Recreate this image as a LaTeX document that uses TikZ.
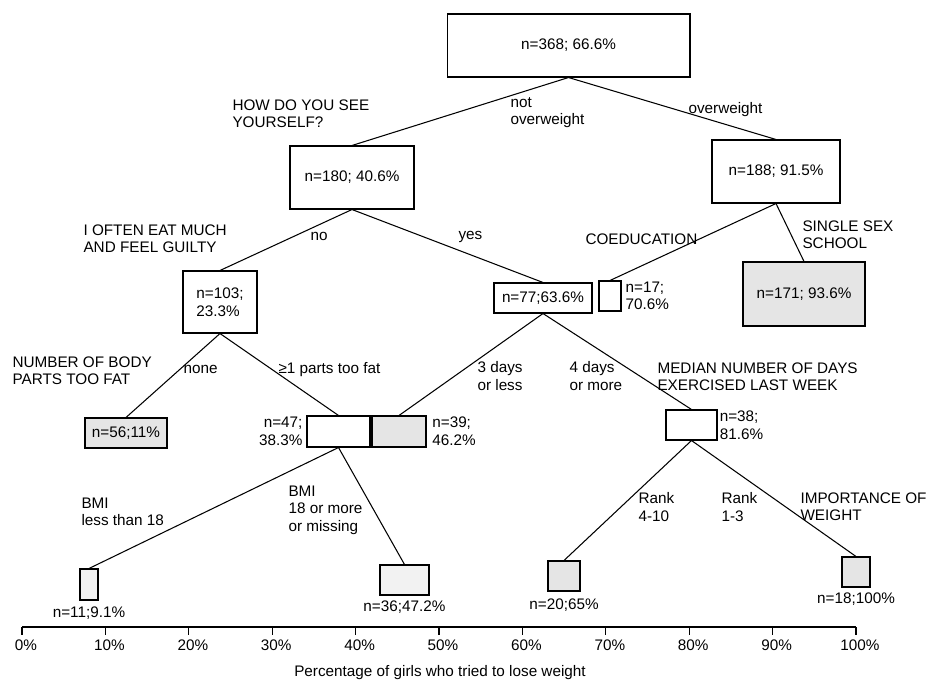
\documentclass[tikz,border=0pt]{standalone}
\usepackage{fontspec}
\setmainfont{Liberation Sans}
\usetikzlibrary{positioning}

\begin{document}
\begin{tikzpicture}[x=0.02cm,y=-0.02cm,line width=0.6pt,
  every node/.style={font=\fontsize{8.7}{10}\selectfont},
  box/.style={draw,inner sep=0pt},
  shade/.style={box,fill=black!10},
  lshade/.style={box,fill=black!5},
  lbl/.style={anchor=north west,align=left,inner sep=0pt},
  side/.style={align=left,inner sep=0pt}]
\useasboundingbox (0,0) rectangle (929,682);
% ---- tree boxes (centres in scan pixels) ----
\node[box,minimum width=4.86cm,minimum height=1.26cm] (root) at (568.5,45.5) {n=368;\ 66.6\%};
\node[box,minimum width=2.48cm,minimum height=1.26cm] (b180) at (352,177.5) {n=180;\ 40.6\%};
\node[box,minimum width=2.56cm,minimum height=1.26cm] (b188) at (776,171.5) {n=188;\ 91.5\%};
\node[box,minimum width=1.48cm,minimum height=1.24cm,align=left] (b103) at (220,302) {n=103;\\23.3\%};
\node[box,minimum width=1.96cm,minimum height=0.6cm] (b77) at (543,298) {n=77;63.6\%};
\node[box,minimum width=0.44cm,minimum height=0.6cm] (b17) at (610,296) {};
\node[shade,minimum width=2.44cm,minimum height=1.28cm] (b171) at (804,294) {n=171;\ 93.6\%};
\node[shade,minimum width=1.64cm,minimum height=0.6cm] (b56) at (126,433) {n=56;11\%};
\node[box,minimum width=1.26cm,minimum height=0.62cm] (b47) at (338.5,431.5) {};
\node[shade,minimum width=1.08cm,minimum height=0.62cm] (b39) at (399,431.5) {};
\node[box,minimum width=1.02cm,minimum height=0.6cm] (b38) at (691.5,425) {};
\node[lshade,minimum width=0.36cm,minimum height=0.62cm] (b11) at (89,584.5) {};
\node[lshade,minimum width=0.98cm,minimum height=0.6cm] (b36) at (404.5,580) {};
\node[shade,minimum width=0.64cm,minimum height=0.6cm] (b20) at (564,576) {};
\node[shade,minimum width=0.56cm,minimum height=0.6cm] (b18) at (856,572) {};
% ---- counts beside / below small boxes ----
\node[side,right=2pt of b17] (n17) {n=17;\\70.6\%};
\node[side,left=2pt of b47,align=right] (n47) {n=47;\\38.3\%};
\node[side,right=3pt of b39] (n39) {n=39;\\46.2\%};
\node[side,right=1pt of b38] (n38) {n=38;\\81.6\%};
\node[below=0.12cm of b11,inner sep=0pt] (n11) {n=11;9.1\%};
\node[below=0.1cm of b36,inner sep=0pt] (n36) {n=36;47.2\%};
\node[below=0.14cm of b20,inner sep=0pt] (n20) {n=20;65\%};
\node[below=0.1cm of b18,inner sep=0pt] (n18) {n=18;100\%};
% ---- branches ----
\draw (root.south) -- (b180.north);
\draw (root.south) -- (b188.north);
\draw (b180.south) -- (b103.north);
\draw (b180.south) -- (b77.north);
\draw (b188.south) -- (b17.north);
\draw (b188.south) -- (b171.north);
\draw (b103.south) -- (b56.north);
\draw (b103.south) -- (b47.north);
\draw (b77.south) -- (b39.north);
\draw (b77.south) -- (b38.north);
\draw (b47.south) -- (b11.north);
\draw (b47.south) -- (b36.north);
\draw (b38.south) -- (b20.north);
\draw (b38.south) -- (b18.north);
% ---- split questions and branch labels ----
\node[lbl] (q1) at (232,99) {HOW DO YOU SEE\\YOURSELF?};
\node[lbl] (l1a) at (510,97) {not\\overweight};
\node[lbl] (l1b) at (688,102) {overweight};
\node[lbl] (q2) at (83,224) {I OFTEN EAT MUCH\\AND FEEL GUILTY};
\node[lbl] (l2a) at (310,232) {no};
\node[lbl] (l2b) at (458,231) {yes};
\node[lbl] (q3) at (585,233) {COEDUCATION};
\node[lbl] (q3b) at (802,220) {SINGLE SEX\\SCHOOL};
\node[lbl] (q4) at (12,356) {NUMBER OF BODY\\PARTS TOO FAT};
\node[lbl] (l4a) at (183,365) {none};
\node[lbl] (l4b) at (278,362) {≥1 parts too fat};
\node[lbl] (l5a) at (477,361) {3 days\\or less};
\node[lbl] (l5b) at (569,361) {4 days\\or more};
\node[lbl] (q5) at (657,362) {MEDIAN NUMBER OF DAYS\\EXERCISED LAST WEEK};
\node[lbl] (q6) at (81,497) {BMI\\less than 18};
\node[lbl] (l6b) at (288,485) {BMI\\18 or more\\or missing};
\node[lbl] (l7a) at (638,492) {Rank\\4-10};
\node[lbl] (l7b) at (721,492) {Rank\\1-3};
\node[lbl] (q7) at (800,492) {IMPORTANCE OF\\WEIGHT};
% ---- percentage axis ----
\draw (22,627) -- (856,627);
\foreach \k [evaluate=\k as \p using int(10*\k)] in {0,...,10}{
  \draw (22+83.4*\k,627) -- ++(0,8);
  \node (t\k) at (26+83.4*\k,645) {\p\%};}
\node (xlab) at (440,673) {Percentage of girls who tried to lose weight};
\end{tikzpicture}
\end{document}
